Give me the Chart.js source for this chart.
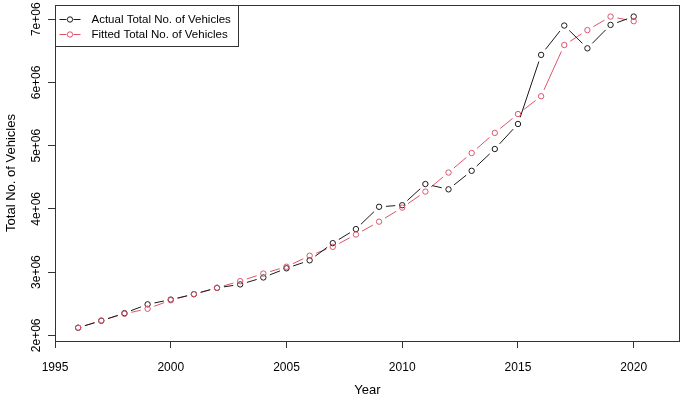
<!DOCTYPE html>
<html>
<head>
<meta charset="utf-8">
<script src="https://cdn.jsdelivr.net/npm/chart.js@4"></script>
<style>
  html, body { margin: 0; padding: 0; background: #fff; }
  canvas { display: block; }
</style>
</head>
<body>
<canvas id="chart" width="685" height="397"></canvas>
<script>
// data
const years = [1996, 1997, 1998, 1999, 2000, 2001, 2002, 2003, 2004, 2005, 2006, 2007, 2008,
  2009, 2010, 2011, 2012, 2013, 2014, 2015, 2016, 2017, 2018, 2019, 2020];
const actual = [2120000, 2230000, 2350000, 2490000, 2565000, 2650000, 2750000, 2805000, 2915000,
  3060000, 3186000, 3458000, 3680000, 4033000, 4058000, 4393000, 4309000, 4602000, 4947000,
  5343000, 6436000, 6900000, 6540000, 6910000, 7042000];
const fitted = [2120000, 2235000, 2340000, 2420000, 2555000, 2653000, 2752000, 2857000, 2977000,
  3085000, 3259000, 3400000, 3594000, 3798000, 4020000, 4273000, 4575000, 4884000, 5202000,
  5500000, 5782000, 6592000, 6828000, 7042000, 6969000];
const xTicks = [1995, 2000, 2005, 2010, 2015, 2020];
const yTicks = [2000000, 3000000, 4000000, 5000000, 6000000, 7000000];
const seriesNames = ["Actual Total No. of Vehicles", "Fitted Total No. of Vehicles"];

const BLACK = "#1a1a1a";
const PINK = "#DF536B";
const AXIS = "#333";
const FONT = "'Liberation Sans', Arial, sans-serif";

// R type="b": lines between points with a gap around each point
const gappedLines = {
  id: "gappedLines",
  beforeDatasetsDraw(chart) {
    const ctx = chart.ctx;
    const gap = 7;
    [1, 0].forEach((di) => {
      const meta = chart.getDatasetMeta(di);
      ctx.save();
      ctx.strokeStyle = chart.data.datasets[di].borderColor;
      ctx.lineWidth = 1;
      for (let i = 0; i < meta.data.length - 1; i++) {
        const a = meta.data[i], b = meta.data[i + 1];
        const dx = b.x - a.x, dy = b.y - a.y;
        const d = Math.hypot(dx, dy);
        if (d <= 2 * gap) continue;
        const ux = dx / d, uy = dy / d;
        ctx.beginPath();
        ctx.moveTo(a.x + ux * gap, a.y + uy * gap);
        ctx.lineTo(b.x - ux * gap, b.y - uy * gap);
        ctx.stroke();
      }
      ctx.restore();
    });
  }
};

const frame = {
  id: "frame",
  afterDraw(chart) {
    const ctx = chart.ctx;
    const a = chart.chartArea;
    const ys = chart.scales.y;
    ctx.save();
    // box
    ctx.strokeStyle = AXIS;
    ctx.lineWidth = 1;
    ctx.strokeRect(Math.round(a.left) + 0.5, Math.round(a.top) + 0.5,
      Math.round(a.right - a.left) - 1, Math.round(a.bottom - a.top));

    // rotated y tick labels
    ctx.fillStyle = "#000";
    ctx.font = "12px " + FONT;
    ctx.textAlign = "center";
    ctx.textBaseline = "middle";
    yTicks.forEach((v) => {
      const y = ys.getPixelForValue(v);
      ctx.save();
      ctx.translate(37, y);
      ctx.rotate(-Math.PI / 2);
      ctx.fillText((v / 1e6) + "e+06", 0, 0);
      ctx.restore();
    });

    // legend
    const lx = Math.round(a.left) + 0.5, ly = Math.round(a.top) + 0.5;
    ctx.fillStyle = "#fff";
    ctx.fillRect(lx, ly, 183, 41);
    ctx.strokeStyle = AXIS;
    ctx.strokeRect(lx, ly, 183, 41);
    const rows = [14, 29];
    const colors = [BLACK, PINK];
    ctx.textAlign = "left";
    ctx.font = "11.5px " + FONT;
    rows.forEach((ry, i) => {
      const yy = ly + ry;
      ctx.strokeStyle = colors[i];
      ctx.beginPath();
      ctx.moveTo(lx + 4, yy); ctx.lineTo(lx + 11, yy);
      ctx.moveTo(lx + 18, yy); ctx.lineTo(lx + 25, yy);
      ctx.stroke();
      ctx.beginPath();
      ctx.arc(lx + 14.5, yy, 2.7, 0, Math.PI * 2);
      ctx.stroke();
      ctx.fillStyle = "#000";
      ctx.fillText(seriesNames[i], lx + 36, yy);
    });
    ctx.restore();
  }
};

new Chart(document.getElementById("chart"), {
  type: "line",
  data: {
    datasets: [
      {
        label: seriesNames[0],
        data: years.map((y, i) => ({ x: y, y: actual[i] })),
        borderColor: BLACK,
        backgroundColor: "transparent",
        showLine: false,
        pointRadius: 2.7,
        pointBorderWidth: 1,
        pointBorderColor: BLACK,
        pointBackgroundColor: "transparent",
        order: 1
      },
      {
        label: seriesNames[1],
        data: years.map((y, i) => ({ x: y, y: fitted[i] })),
        borderColor: PINK,
        backgroundColor: "transparent",
        showLine: false,
        pointRadius: 2.7,
        pointBorderWidth: 1,
        pointBorderColor: PINK,
        pointBackgroundColor: "transparent",
        order: 0
      }
    ]
  },
  options: {
    responsive: false,
    devicePixelRatio: 1,
    animation: false,
    layout: { padding: { top: 2, right: 1, left: 0, bottom: 0 } },
    plugins: {
      legend: { display: false },
      tooltip: { enabled: false }
    },
    scales: {
      x: {
        type: "linear",
        min: 1995,
        max: 2022,
        afterBuildTicks: (s) => { s.ticks = xTicks.map((v) => ({ value: v })); },
        afterFit: (s) => { s.height = 56; },
        ticks: {
          color: "#000",
          padding: 12,
          maxRotation: 0,
          font: { family: FONT, size: 12 },
          callback: (v) => String(v)
        },
        grid: { drawOnChartArea: false, tickLength: 7, tickColor: AXIS, tickWidth: 1 },
        border: { display: false },
        title: {
          display: true,
          text: "Year",
          color: "#000",
          padding: 0,
          font: { family: FONT, size: 13, lineHeight: 1 }
        }
      },
      y: {
        type: "linear",
        min: 1910000,
        max: 7225000,
        afterBuildTicks: (s) => { s.ticks = yTicks.map((v) => ({ value: v })); },
        afterFit: (s) => { s.width = 55; },
        ticks: { display: false },
        grid: { drawOnChartArea: false, tickLength: 7, tickColor: AXIS, tickWidth: 1 },
        border: { display: false },
        title: {
          display: true,
          text: "Total No. of Vehicles",
          color: "#000",
          padding: { top: 4.5, bottom: 0 },
          font: { family: FONT, size: 13, lineHeight: 1 }
        }
      }
    }
  },
  plugins: [gappedLines, frame]
});
</script>
</body>
</html>
